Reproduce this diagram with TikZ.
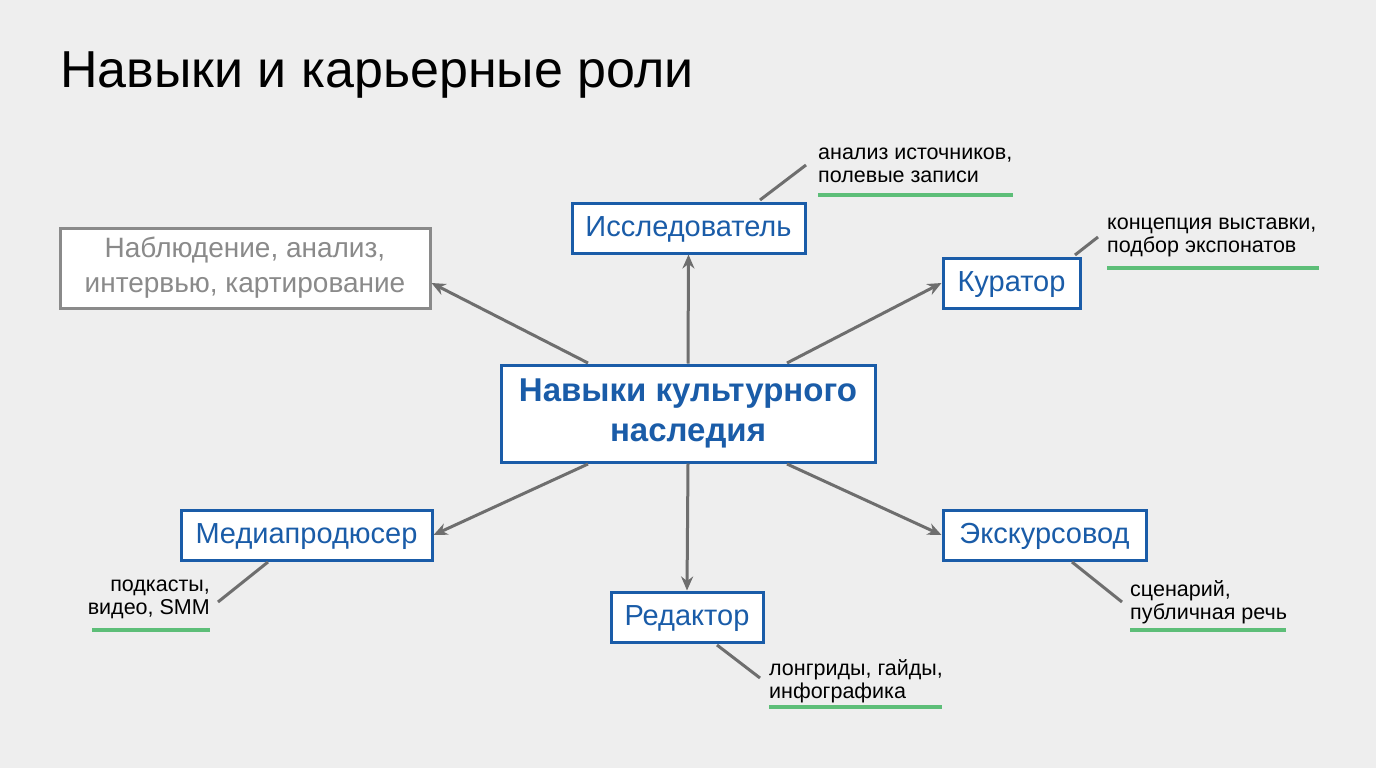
\documentclass[tikz,border=0pt]{standalone}
\usepackage{fontspec}
\setmainfont{Liberation Sans}
\usetikzlibrary{arrows.meta}
\definecolor{bg}{HTML}{EEEEEE}
\definecolor{blu}{HTML}{1A5CA8}
\definecolor{gry}{HTML}{6E6E6E}
\definecolor{lgr}{HTML}{8A8A8A}
\definecolor{grn}{HTML}{5DBE78}
\begin{document}
\begin{tikzpicture}[x=1pt,y=-1pt,
  role/.style={draw=blu,line width=3pt,fill=white,text=blu,font=\fontsize{29}{34}\selectfont,inner sep=0pt,minimum height=50pt,text height=20pt,text depth=3pt},
  arr/.style={draw=gry,line width=3pt,-{Stealth[length=14pt,width=12pt]}},
  lead/.style={draw=gry,line width=3pt},
  note/.style={font=\fontsize{21.5}{23}\selectfont,text=black,align=left,inner sep=0pt},
  ul/.style={draw=grn,line width=4pt}]
\fill[bg] (0,0) rectangle (1376,768);
\useasboundingbox (0,0) rectangle (1376,768);
\node[anchor=base west,font=\fontsize{52}{60}\selectfont,inner sep=0pt] (title) at (60,88) {Навыки и карьерные роли};

\node[draw=blu,line width=3pt,fill=white,text=blu,font=\bfseries\fontsize{33}{40}\selectfont,align=center,minimum width=374pt,minimum height=97pt,inner sep=0pt] (c) at (688,413.5) {Навыки культурного\\наследия};
\node[draw=lgr,line width=3pt,fill=white,text=lgr,font=\fontsize{28}{35}\selectfont,align=center,minimum width=370pt,minimum height=80pt,inner sep=0pt] (obs) at (245,268) {Наблюдение, анализ,\\интервью, картирование};
\node[role,minimum width=233pt] (res) at (688.5,228) {Исследователь};
\node[role,minimum width=137pt] (cur) at (1011.5,283) {Куратор};
\node[role,minimum width=251pt] (med) at (306.5,535) {Медиапродюсер};
\node[role,minimum width=152pt] (red) at (687,617) {Редактор};
\node[role,minimum width=203pt] (exc) at (1044.5,535) {Экскурсовод};

\draw[arr] (588,363) -- (obs.east |- 0,283);
\draw[arr] (c.north) -- (res.south);
\draw[arr] (787,363) -- (cur.west);
\draw[arr] (588,464) -- (med.east);
\draw[arr] (c.south) -- (red.north);
\draw[arr] (787,464) -- (exc.west);

\coordinate (r1) at (760,200); \coordinate (r2) at (806,165);
\draw[lead] (r1) -- (r2);
\node[note,anchor=north west] (rn) at (818,148) {анализ источников,\\полевые записи};
\draw[ul] (818,195) -- (1013,195);

\coordinate (k1) at (1075,255); \coordinate (k2) at (1098,237);
\draw[lead] (k1) -- (k2);
\node[note,anchor=north west] (kn) at (1107,218) {концепция выставки,\\подбор экспонатов};
\draw[ul] (1107,268) -- (1319,268);

\coordinate (m1) at (268,562); \coordinate (m2) at (218,602);
\draw[lead] (m1) -- (m2);
\node[note,anchor=north east,align=right] (mn) at (210,580) {подкасты,\\видео, SMM};
\draw[ul] (92,630) -- (210,630);

\coordinate (e1) at (717,645); \coordinate (e2) at (760,678);
\draw[lead] (e1) -- (e2);
\node[note,anchor=north west] (en) at (769,659) {лонгриды, гайды,\\инфографика};
\draw[ul] (769,707) -- (942,707);

\coordinate (x1) at (1072,562); \coordinate (x2) at (1122,602);
\draw[lead] (x1) -- (x2);
\node[note,anchor=north west] (xn) at (1130,580) {сценарий,\\публичная речь};
\draw[ul] (1130,630) -- (1286,630);
\end{tikzpicture}
\end{document}
